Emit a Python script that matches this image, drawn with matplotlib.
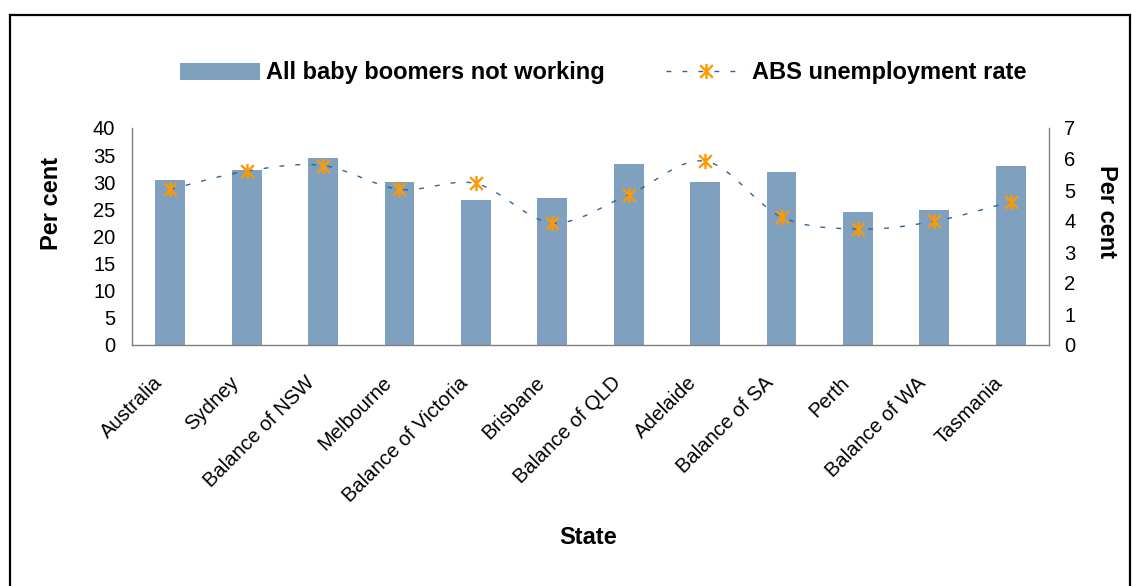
import matplotlib.pyplot as plt
import numpy as np
from matplotlib.path import Path
from matplotlib.patches import PathPatch, Rectangle

plt.rcParams['font.family'] = ['Liberation Sans', 'DejaVu Sans']

states = ['Australia', 'Sydney', 'Balance of NSW', 'Melbourne', 'Balance of Victoria',
          'Brisbane', 'Balance of QLD', 'Adelaide', 'Balance of SA', 'Perth',
          'Balance of WA', 'Tasmania']
not_working = [30.4, 32.3, 34.5, 30.1, 26.8, 27.1, 33.4, 30.1, 31.9, 24.5, 24.9, 33.0]
abs_rate = [5.02, 5.61, 5.79, 5.02, 5.21, 3.94, 4.85, 5.93, 4.13, 3.74, 3.99, 4.62]

bar_col = '#7FA1BF'
line_col = '#2E6496'
mark_col = '#FF9900'
dash = (0, (3.5, 8))

# excel style star marker
star = Path([(-1, -1), (1, 1), (-1, 1), (1, -1), (0, -1.2), (0, 1.2)],
            [Path.MOVETO, Path.LINETO, Path.MOVETO, Path.LINETO, Path.MOVETO, Path.LINETO])

W, H = 1132, 586
fig = plt.figure(figsize=(W / 100, H / 100), dpi=100)
ax = fig.add_axes([132 / W, 1 - 345 / H, 917 / W, 217 / H])
ax2 = ax.twinx()

x = np.arange(len(states))
ax.bar(x, not_working, width=0.39, color=bar_col, zorder=2)

# smoothed line (catmull-rom -> bezier), like excel's smoothed line
pts = np.column_stack([x, abs_rate])
verts = [tuple(pts[0])]
codes = [Path.MOVETO]
for i in range(len(pts) - 1):
    p0 = pts[max(i - 1, 0)]
    p1 = pts[i]
    p2 = pts[i + 1]
    p3 = pts[min(i + 2, len(pts) - 1)]
    c1 = p1 + (p2 - p0) / 6
    c2 = p2 - (p3 - p1) / 6
    verts += [tuple(c1), tuple(c2), tuple(p2)]
    codes += [Path.CURVE4] * 3
curve = PathPatch(Path(verts, codes), facecolor='none', edgecolor=line_col,
                  lw=1.0, linestyle=dash, zorder=3)
ax2.add_patch(curve)
ax2.plot(x, abs_rate, linestyle='none', marker=star, markersize=11,
         markeredgecolor=mark_col, markeredgewidth=1.7, zorder=4)
line_handle = plt.Line2D([], [], color=line_col, lw=1.0, linestyle=dash,
                         marker=star, markersize=11, markeredgecolor=mark_col,
                         markeredgewidth=1.7)

ax.set_xlim(-0.5, len(states) - 0.5)
ax.set_ylim(0, 40)
ax.set_yticks(range(0, 41, 5))
ax2.set_ylim(0, 7)
ax2.set_yticks(range(0, 8))

# rotated category labels, hung below each tick like excel does
ax.set_xticks(x)
ax.set_xticklabels([])
for xi, name in zip(x, states):
    ax.annotate(name, xy=(xi, 0), xycoords=('data', 'axes fraction'),
                xytext=(-11, -35), textcoords='offset pixels',
                rotation=45, ha='right', va='center', rotation_mode='anchor',
                fontsize=14.5, annotation_clip=False)
ax.tick_params(axis='x', length=0)
ax.tick_params(axis='y', length=0, labelsize=14.5, pad=12)
ax2.tick_params(axis='y', length=0, labelsize=14.5, pad=11)

for a in (ax, ax2):
    a.spines['top'].set_visible(False)
    for s in ('left', 'right', 'bottom'):
        a.spines[s].set_color('#808080')
        a.spines[s].set_linewidth(1.0)
ax.spines['right'].set_visible(False)
ax2.spines['left'].set_visible(False)
ax2.spines['bottom'].set_visible(False)

fig.text(52 / W, 1 - 203 / H, 'Per cent', fontsize=17, fontweight='bold',
         rotation=90, ha='center', va='center')
fig.text(1106 / W, 1 - 212 / H, 'Per cent', fontsize=17, fontweight='bold',
         rotation=270, ha='center', va='center')
fig.text(588 / W, 1 - 538 / H, 'State', fontsize=17, fontweight='bold',
         ha='center', va='center')

fig.legend([ax.patches[0], line_handle],
           ['All baby boomers not working', 'ABS unemployment rate'],
           loc='center', bbox_to_anchor=(603 / W, 1 - 73 / H), ncol=2, frameon=False,
           handlelength=3.4, handleheight=0.7, handletextpad=0.25, columnspacing=2.6,
           numpoints=1, prop={'size': 17, 'weight': 'bold'})

fig.patches.append(Rectangle((10 / W, -0.1), 1120 / W, 1.1 - 15 / H,
                             transform=fig.transFigure, fill=False,
                             edgecolor='black', lw=1.6))

fig.savefig('out.png', dpi=100)
